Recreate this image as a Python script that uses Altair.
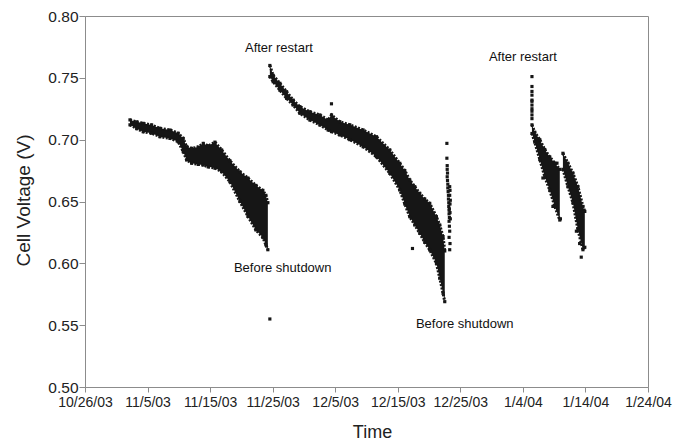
import json
import altair as alt
import pandas as pd

FONT = "Liberation Sans"
INK = "#161616"

# x positions are days since 10/26/03
TICK_DAYS = [0, 10, 20, 30, 40, 50, 60, 70, 80, 90]
TICK_LABELS = ["10/26/03", "11/5/03", "11/15/03", "11/25/03", "12/5/03",
               "12/15/03", "12/25/03", "1/4/04", "1/14/04", "1/24/04"]
V_TICKS = [0.50, 0.55, 0.60, 0.65, 0.70, 0.75, 0.80]

# Upper / lower edge of the dense cloud of readings for each run (V)
RUN1_DAY = [7.19, 8.26, 9.31, 10.65, 11.98, 13.58, 14.90, 15.70, 16.25, 17.04, 18.10, 18.90, 19.70,
            20.77, 21.84, 23.16, 24.76, 26.04, 27.32, 28.43, 28.91, 29.23]
RUN1_HI = [0.716, 0.7144, 0.7132, 0.7119, 0.7092, 0.7078, 0.7052, 0.701, 0.6943, 0.693, 0.694, 0.697, 0.695,
           0.698, 0.6917, 0.683, 0.674, 0.669, 0.663, 0.659, 0.655, 0.649]
RUN1_LO = [0.712, 0.7089, 0.7064, 0.7052, 0.7024, 0.701, 0.6984, 0.6903, 0.6836, 0.681, 0.680, 0.6795, 0.678,
           0.677, 0.6741, 0.666, 0.650, 0.638, 0.627, 0.621, 0.615, 0.611]

RUN2_DAY = [29.55, 30.08, 31.15, 32.22, 33.27, 34.35, 35.94, 37.54, 38.87, 39.41, 40.73, 42.33, 44.46,
            46.60, 48.72, 50.32, 51.12, 51.92, 52.72, 53.51, 54.31, 55.11, 56.18, 56.71, 57.24, 57.51]
RUN2_HI = [0.760, 0.752, 0.7456, 0.7388, 0.732, 0.7267, 0.7226, 0.720, 0.7159, 0.720, 0.7145, 0.712, 0.7078,
           0.7024, 0.6917, 0.6809, 0.675, 0.6674, 0.662, 0.6566, 0.652, 0.6485, 0.6377, 0.631, 0.6215, 0.610]
RUN2_LO = [0.751, 0.7469, 0.740, 0.7334, 0.728, 0.7213, 0.7159, 0.7119, 0.7078, 0.7065, 0.7038, 0.700, 0.6943,
           0.6862, 0.6728, 0.6593, 0.648, 0.6377, 0.631, 0.6243, 0.617, 0.6108, 0.600, 0.588, 0.5758, 0.569]

RUN3_DAY = [71.45, 71.9, 72.7, 73.5, 74.3, 75.1, 75.9]
RUN3_HI = [0.712, 0.706, 0.700, 0.692, 0.686, 0.681, 0.676]
RUN3_LO = [0.705, 0.698, 0.684, 0.670, 0.659, 0.646, 0.635]

RUN4_DAY = [76.4, 77.2, 78.0, 78.8, 79.6, 79.9]
RUN4_HI = [0.689, 0.681, 0.673, 0.662, 0.646, 0.642]
RUN4_LO = [0.676, 0.662, 0.649, 0.627, 0.611, 0.613]

# Sparse readings outside the dense clouds
BRIEF_RUN_DAY = [57.85, 57.85, 57.9, 57.9, 57.95, 57.9, 57.95, 58.0, 58.0, 58.05, 58.1, 58.1, 58.15, 58.15,
                 58.2, 58.2, 58.25, 58.2, 58.25, 58.3, 58.2, 58.35, 58.3,
                 58.3, 58.35, 58.35, 58.4, 58.3, 58.35, 58.25, 58.4]
BRIEF_RUN_V = [0.697, 0.685, 0.679, 0.676, 0.673, 0.670, 0.667, 0.664, 0.661, 0.658, 0.655, 0.652, 0.649, 0.646,
               0.643, 0.640, 0.637, 0.634, 0.630, 0.626, 0.621, 0.616, 0.611,
               0.655, 0.648, 0.641, 0.636, 0.662, 0.659, 0.644, 0.651]

RESTART3_DAY = [71.45, 71.45, 71.45, 71.45, 71.45, 71.45, 71.45, 71.45, 71.45, 71.45, 71.45]
RESTART3_V = [0.751, 0.743, 0.739, 0.736, 0.732, 0.731, 0.728, 0.725, 0.723, 0.720, 0.717]

STRAY_DAY = [29.55, 39.4, 52.35, 73.2, 74.8, 75.45, 76.0, 78.55, 79.07, 79.33]
STRAY_V = [0.555, 0.729, 0.612, 0.669, 0.646, 0.681, 0.636, 0.626, 0.616, 0.605]

# Annotations
NOTE_TEXT = ["After restart", "After restart", "Before shutdown", "Before shutdown"]
NOTE_DAY = [31.0, 70.0, 31.6, 60.7]
NOTE_V = [0.7741, 0.7668, 0.5962, 0.5510]

runs = [(RUN1_DAY, RUN1_HI, RUN1_LO), (RUN2_DAY, RUN2_HI, RUN2_LO),
        (RUN3_DAY, RUN3_HI, RUN3_LO), (RUN4_DAY, RUN4_HI, RUN4_LO)]

band = pd.concat(
    [pd.DataFrame({"day": d, "hi": h, "lo": l, "run": i}) for i, (d, h, l) in enumerate(runs)],
    ignore_index=True,
)
edges = pd.concat(
    [pd.DataFrame({"day": d, "v": h, "edge": f"{i}-hi"}) for i, (d, h, l) in enumerate(runs)]
    + [pd.DataFrame({"day": d, "v": l, "edge": f"{i}-lo"}) for i, (d, h, l) in enumerate(runs)],
    ignore_index=True,
)

points = pd.concat(
    [
        edges[["day", "v"]],
        pd.DataFrame({"day": BRIEF_RUN_DAY, "v": BRIEF_RUN_V}),
        pd.DataFrame({"day": RESTART3_DAY, "v": RESTART3_V}),
        pd.DataFrame({"day": STRAY_DAY, "v": STRAY_V}),
    ],
    ignore_index=True,
)

notes = pd.DataFrame({"text": NOTE_TEXT, "day": NOTE_DAY, "v": NOTE_V})

label_expr = json.dumps(TICK_LABELS) + "[round(datum.value / 10)]"

x_scale = alt.Scale(domain=[0, 90], nice=False, zero=False)
y_scale = alt.Scale(domain=[0.5, 0.8], nice=False, zero=False)

x_axis = alt.Axis(
    values=TICK_DAYS, labelExpr=label_expr, title="Time", grid=False,
    labelOverlap=False, labelFlush=False,
    tickSize=5, labelPadding=3, labelFontSize=14, labelFont=FONT, labelColor="#222",
    titleFont=FONT, titleFontSize=18, titleFontWeight="normal", titleColor="#222",
    titleBaseline="middle", titleY=45, titleX=287,
)
y_axis = alt.Axis(
    values=V_TICKS, format=".2f", title="Cell Voltage (V)", grid=False,
    labelOverlap=False, labelFlush=False,
    tickSize=6, labelPadding=1, labelFontSize=15.5, labelFont=FONT, labelColor="#222",
    titleFont=FONT, titleFontSize=19, titleFontWeight="normal", titleColor="#222",
    titleBaseline="middle", titleX=-62, titleY=184,
)

bands = alt.Chart(band).mark_area(color=INK, opacity=1).encode(
    x=alt.X("day:Q", scale=x_scale, axis=x_axis),
    y=alt.Y("hi:Q", scale=y_scale, axis=y_axis),
    y2="lo:Q",
    detail="run:N",
)

# speckled rims along the cloud edges
rims = alt.Chart(edges).mark_line(color=INK, strokeWidth=3, strokeDash=[2, 1.5]).encode(
    x=alt.X("day:Q", scale=x_scale),
    y=alt.Y("v:Q", scale=y_scale),
    detail="edge:N",
)

dots = alt.Chart(points).mark_square(size=10, color=INK, opacity=1).encode(
    x=alt.X("day:Q", scale=x_scale),
    y=alt.Y("v:Q", scale=y_scale),
)

labels = alt.Chart(notes).mark_text(font=FONT, fontSize=13, color="#111", baseline="middle", align="center").encode(
    x=alt.X("day:Q", scale=x_scale),
    y=alt.Y("v:Q", scale=y_scale),
    text="text:N",
)

chart = (
    alt.layer(bands, rims, dots, labels)
    .properties(
        width=563, height=371,
        autosize=alt.AutoSizeParams(type="none"),
        padding={"left": 85, "top": 16, "right": 43, "bottom": 54},
        background="white",
    )
    .configure_view(stroke="#8c8c8c", strokeWidth=1)
    .configure_axis(domainColor="#8c8c8c", tickColor="#8c8c8c", domainWidth=1, tickWidth=1)
)

chart.save("out.html", embed_options={"renderer": "svg", "actions": False})
